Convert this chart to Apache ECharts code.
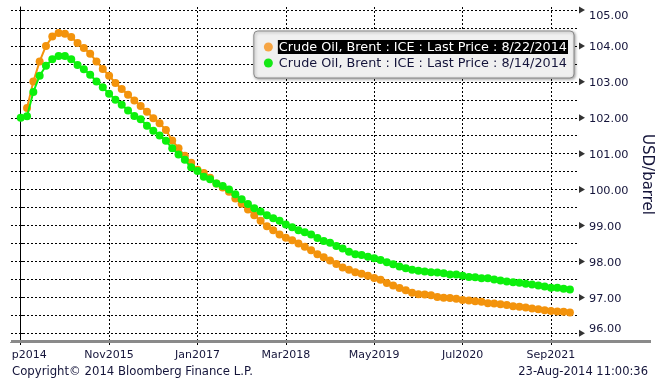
<!DOCTYPE html>
<html><head><meta charset="utf-8">
<script src="https://cdn.jsdelivr.net/npm/echarts@6/dist/echarts.min.js"></script>
<style>html,body{margin:0;padding:0;background:#fff}#c{width:657px;height:387px}</style>
</head><body><div id="c"></div>
<script>
// x = months after Sep 2014 (contract month index)
const tickMonths = [0, 14, 28, 42, 56, 70, 84];
const tickLabels = ['Sep2014', 'Nov2015', 'Jan2017', 'Mar2018', 'May2019', 'Jul2020', 'Sep2021'];
const yTicks = [96, 97, 98, 99, 100, 101, 102, 103, 104, 105];
const yAllTicks = [96, 96.5, 97, 97.5, 98, 98.5, 99, 99.5, 100, 100.5, 101, 101.5, 102, 102.5, 103, 103.5, 104, 104.5, 105];

const seriesNames = ['Crude Oil, Brent : ICE : Last Price : 8/22/2014', 'Crude Oil, Brent : ICE : Last Price : 8/14/2014'];

// 8/22/2014 curve, starts at month index 1
const startAug22 = 1;
const priceAug22 = [
  102.27, 103.01, 103.57, 104.00, 104.26, 104.36, 104.34, 104.25, 104.08, 103.94,
  103.78, 103.57, 103.36, 103.17, 102.97, 102.80, 102.64, 102.48, 102.33, 102.17,
  101.99, 101.85, 101.66, 101.37, 101.15, 100.94, 100.75, 100.55, 100.46, 100.33,
  100.17, 100.06, 99.94, 99.75, 99.61, 99.45, 99.29, 99.13, 98.98, 98.87,
  98.75, 98.66, 98.59, 98.50, 98.41, 98.31, 98.20, 98.12, 98.03, 97.93,
  97.83, 97.77, 97.70, 97.66, 97.60, 97.54, 97.49, 97.40, 97.33, 97.26,
  97.20, 97.13, 97.09, 97.08, 97.06, 97.01, 96.99, 96.98, 96.96, 96.93,
  96.91, 96.89, 96.88, 96.84, 96.83, 96.81, 96.79, 96.75, 96.74, 96.72,
  96.69, 96.67, 96.64, 96.62, 96.61, 96.60, 96.58
];
// 8/14/2014 curve, starts at month index 0
const startAug14 = 0;
const priceAug14 = [
  102.00, 102.04, 102.72, 103.17, 103.45, 103.63, 103.72, 103.72, 103.63, 103.47,
  103.35, 103.20, 103.01, 102.85, 102.67, 102.50, 102.36, 102.20, 102.05, 101.96,
  101.78, 101.64, 101.51, 101.36, 101.15, 100.98, 100.83, 100.62, 100.52, 100.36,
  100.29, 100.17, 100.10, 100.00, 99.87, 99.73, 99.60, 99.48, 99.39, 99.29,
  99.20, 99.13, 99.03, 98.95, 98.87, 98.81, 98.75, 98.65, 98.57, 98.52,
  98.43, 98.36, 98.27, 98.20, 98.18, 98.13, 98.09, 98.04, 97.98, 97.92,
  97.86, 97.81, 97.77, 97.74, 97.72, 97.70, 97.69, 97.67, 97.64, 97.64,
  97.60, 97.57, 97.56, 97.53, 97.53, 97.50, 97.47, 97.44, 97.42, 97.41,
  97.38, 97.36, 97.33, 97.30, 97.27, 97.27, 97.24, 97.22
];

const toPairs = (start, arr) => arr.map((v, i) => [start + i, v]);

const FONT = 'DejaVu Sans';
const TXT = '#14143a';
const ORANGE = '#f3930c';
const GREEN = '#0cf00c';
const X_MIN = -1.54, X_MAX = 88.44;
const Y_MIN = 95.758, Y_MAX = 105.084;

const chart = echarts.init(document.getElementById('c'), null, {renderer: 'canvas'});
chart.setOption({
  animation: false,
  backgroundColor: '#ffffff',
  grid: {left: 11, right: 78, top: 7, bottom: 45, containLabel: false, outerBoundsMode: 'none'},
  legend: {
    orient: 'vertical',
    right: 83, top: 31,
    backgroundColor: '#f0f0f0',
    borderColor: '#8a8a8a', borderWidth: 1, borderRadius: 4,
    shadowColor: 'rgba(0,0,0,0.35)', shadowBlur: 3, shadowOffsetX: 1, shadowOffsetY: 1,
    padding: [9, 6, 8, 10],
    itemGap: 3, itemWidth: 9, itemHeight: 9,
    icon: 'circle',
    data: [
      {name: seriesNames[0], itemStyle: {color: '#f6a544'}},
      {name: seriesNames[1], itemStyle: {color: '#16e816'}}
    ],
    selectedMode: false,
    formatter: name => name === seriesNames[0] ? '{hl|' + name + '}' : '{nm|' + name + '}',
    textStyle: {
      fontFamily: FONT, fontSize: 12.8, color: TXT,
      rich: {
        hl: {fontFamily: FONT, fontSize: 12.8, color: '#ffffff', backgroundColor: '#000000', padding: [1, 1, 0, 1]},
        nm: {fontFamily: FONT, fontSize: 12.8, color: TXT, padding: [1, 1, 0, 1]}
      }
    }
  },
  xAxis: {
    type: 'value', min: X_MIN, max: X_MAX,
    axisLine: {show: true, lineStyle: {color: '#000', width: 1}},
    axisTick: {show: true, customValues: tickMonths, length: 3, lineStyle: {color: '#000'}},
    axisLabel: {
      customValues: tickMonths, margin: 8,
      fontFamily: FONT, fontSize: 11, color: TXT,
      formatter: v => {
        const i = tickMonths.indexOf(Math.round(v));
        if (i < 0) return '';
        return i === 0 ? '{cut|' + tickLabels[i].slice(2) + '}' : tickLabels[i];
      },
      rich: {cut: {fontFamily: FONT, fontSize: 11, color: TXT, padding: [0, 0, 0, 17]}}
    },
    splitLine: {show: true, lineStyle: {color: '#000', type: [2, 2], width: 1}}
  },
  yAxis: {
    type: 'value', position: 'right', min: Y_MIN, max: Y_MAX,
    axisLine: {show: true, lineStyle: {color: '#000', width: 1}},
    axisTick: {show: true, customValues: yAllTicks, length: 4, lineStyle: {color: '#000', width: 1}},
    axisLabel: {
      customValues: yTicks, margin: 10,
      fontFamily: FONT, fontSize: 11.3, color: TXT,
      formatter: v => {
        const s = v.toFixed(2);
        if (Math.abs(v - 105) < 1e-6) return '{top|' + s + '}';
        if (Math.abs(v - 96) < 1e-6) return '{bot|' + s + '}';
        return '{mid|' + s + '}';
      },
      rich: {
        top: {fontFamily: FONT, fontSize: 11.3, color: TXT, padding: [12, 0, 0, 0]},
        bot: {fontFamily: FONT, fontSize: 11.3, color: TXT, padding: [0, 0, 9, 0]},
        mid: {fontFamily: FONT, fontSize: 11.3, color: TXT, padding: [3, 0, 0, 0]}
      }
    },
    splitLine: {show: true, lineStyle: {color: '#000', type: [2, 2], width: 1}},
    name: 'USD/barrel', nameLocation: 'middle', nameRotate: -90, nameGap: 56,
    nameTextStyle: {fontFamily: FONT, fontSize: 15, color: TXT, padding: [0, 0, 0, 0]}
  },
  series: [{
    name: seriesNames[0], type: 'line',
    data: toPairs(startAug22, priceAug22),
    symbol: 'circle', symbolSize: 8, showAllSymbol: true,
    lineStyle: {color: ORANGE, width: 2},
    itemStyle: {color: ORANGE},
    emphasis: {disabled: true}, z: 3
  }, {
    name: seriesNames[1], type: 'line',
    data: toPairs(startAug14, priceAug14),
    symbol: 'circle', symbolSize: 8, showAllSymbol: true,
    lineStyle: {color: GREEN, width: 2},
    itemStyle: {color: GREEN},
    emphasis: {disabled: true}, z: 4
  }, {
    // arrow-shaped major ticks on the price axis
    name: 'axisArrows', type: 'scatter',
    data: yTicks.map(v => [X_MAX, v]),
    symbol: 'triangle', symbolRotate: -90, symbolSize: [7, 6], symbolOffset: [3, 0],
    itemStyle: {color: '#000'}, clip: false, silent: true,
    emphasis: {disabled: true}, z: 10
  }],
  graphic: [
    {type: 'rect', z: 100, shape: {x: 11, y: 340, width: 640, height: 3}, style: {fill: '#8a8a8a'}},
    {type: 'text', z: 100, left: 12, top: 366, style: {text: 'Copyright\u00a9 2014 Bloomberg Finance L.P.', font: '11.7px "DejaVu Sans"', fill: TXT}},
    {type: 'text', z: 100, right: 9, top: 366, style: {text: '23-Aug-2014 11:00:36', font: '11.5px "DejaVu Sans"', fill: TXT}}
  ]
});
</script></body></html>
